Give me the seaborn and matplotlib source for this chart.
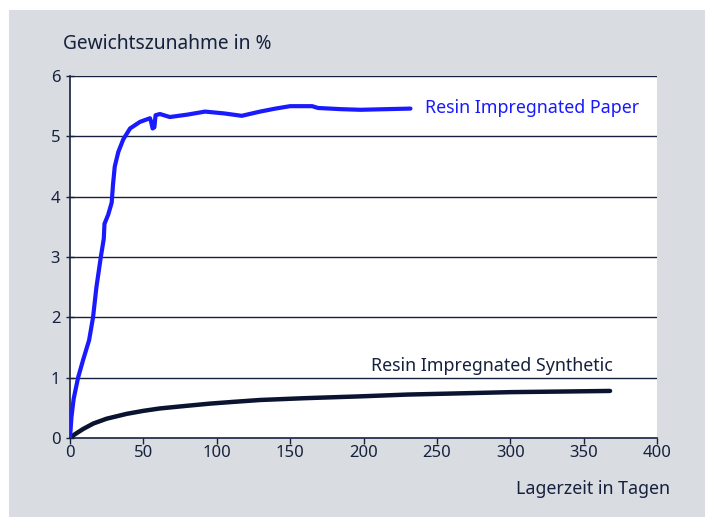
import numpy as np
import pandas as pd
import seaborn as sns
import matplotlib.pyplot as plt
from matplotlib.patches import Rectangle

# Data
paper_days = [0, 1, 2.5, 5.5, 9, 13, 15.7, 18, 21, 23, 23.5, 26, 28.4, 29.3, 30.5, 32.9, 36.3, 40.9,
              47.7, 54.5, 55.2, 56.3, 57.5, 58.3, 61.3, 68, 80, 92, 105, 117, 129.5,
              140, 150, 165, 169, 185, 198, 215, 232]
paper_gain = [0, 0.35, 0.65, 1.0, 1.3, 1.62, 2.0, 2.5, 3.0, 3.3, 3.55, 3.7, 3.9, 4.2, 4.5, 4.74, 4.95, 5.13,
              5.24, 5.30, 5.25, 5.13, 5.15, 5.35, 5.37, 5.32, 5.36, 5.41, 5.38, 5.34, 5.41,
              5.46, 5.50, 5.50, 5.47, 5.45, 5.44, 5.45, 5.46]

synth_days = [0, 2, 4.5, 9, 15.9, 25, 38.6, 50, 61.3, 78, 95.4, 112, 129.5, 160, 197.6,
              230, 265.7, 300, 335, 368]
synth_gain = [0, 0.04, 0.08, 0.15, 0.24, 0.32, 0.40, 0.45, 0.49, 0.53, 0.57, 0.60, 0.63, 0.66, 0.69,
              0.72, 0.74, 0.76, 0.77, 0.78]

labels = ['Resin Impregnated Paper', 'Resin Impregnated Synthetic']

navy = '#16213d'
blue = '#1a1aff'
grey = '#d9dce1'

sns.set_style('white')
plt.rcParams['font.family'] = ['Noto Sans', 'DejaVu Sans']

fig = plt.figure(figsize=(7.05, 5.17), dpi=100)
fig.patches.append(Rectangle((9 / 705, 0), 1, 1 - 10 / 517, transform=fig.transFigure,
                             facecolor=grey, edgecolor='none', zorder=-10))
ax = fig.add_axes([70 / 705, 1 - 438 / 517, 587 / 705, 362 / 517])
ax.set_facecolor('white')

paper = pd.DataFrame({'days': paper_days, 'gain': paper_gain})
synth = pd.DataFrame({'days': synth_days, 'gain': synth_gain})
sns.lineplot(data=synth, x='days', y='gain', color='#0a1330', lw=3.2, sort=False,
             estimator=None, ax=ax, zorder=3)
sns.lineplot(data=paper, x='days', y='gain', color=blue, lw=3.0, sort=False,
             estimator=None, ax=ax, zorder=4)

ax.set_xlim(0, 400)
ax.set_ylim(0, 6)
ax.set_xticks(range(0, 401, 50))
ax.set_yticks(range(0, 7))
for y in range(1, 7):
    ax.axhline(y, color=navy, lw=1.0, zorder=2)

for s in ['top', 'right']:
    ax.spines[s].set_visible(False)
for s in ['left', 'bottom']:
    ax.spines[s].set_color(navy)
    ax.spines[s].set_linewidth(1.2)
ax.tick_params(axis='y', direction='inout', length=6, width=1, color=navy,
               labelsize=12, labelcolor=navy, pad=4, left=True)
ax.tick_params(axis='x', direction='out', length=4, width=1, color=navy,
               labelsize=12, labelcolor=navy, pad=1, bottom=True)

ax.set_xlabel('')
ax.set_ylabel('')
fig.text(63 / 705, 1 - 44 / 517, 'Gewichtszunahme in %', fontsize=13.8, color=navy,
         ha='left', va='center')
fig.text(670 / 705, 1 - 489 / 517, 'Lagerzeit in Tagen', fontsize=12.8, color=navy,
         ha='right', va='center')

ax.text(242, 5.47, labels[0], color=blue, fontsize=12.8, ha='left', va='center')
ax.text(205, 1.2, labels[1], color=navy, fontsize=12.8, ha='left', va='center')

fig.savefig('out.png', dpi=100)
